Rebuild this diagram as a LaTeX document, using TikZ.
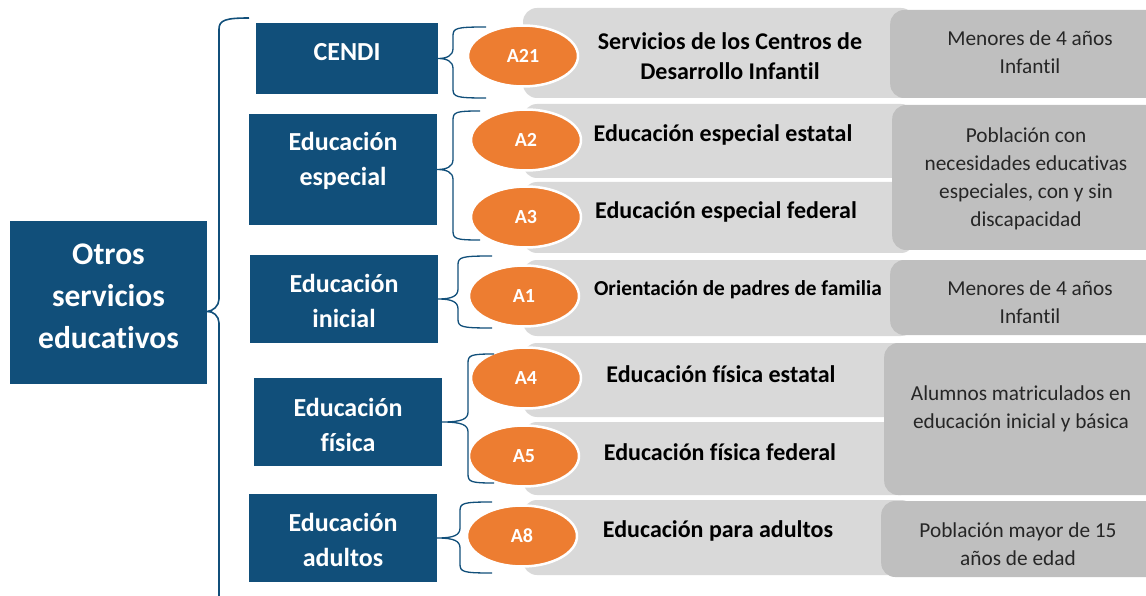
\documentclass[tikz,border=0pt]{standalone}
\usepackage{fontspec}
\setmainfont[Ligatures=CommonOff]{Carlito}
\usetikzlibrary{shapes.geometric}

\definecolor{sepblue}{RGB}{17,79,122}
\definecolor{seporange}{RGB}{237,125,49}
\definecolor{rowgray}{RGB}{217,217,217}
\definecolor{popgray}{RGB}{191,191,191}
\definecolor{popink}{RGB}{38,38,38}

\tikzset{
  catbox/.style={fill=sepblue, inner sep=0pt},
  cattext/.style={white, font=\bfseries\fontsize{26}{35}\selectfont, align=center},
  progell/.style={ellipse, fill=seporange, draw=white, line width=2.5pt,
    minimum width=110pt, minimum height=61pt, inner sep=0pt,
    text=white, font=\bfseries\fontsize{20}{22}\selectfont},
  rowbox/.style={fill=rowgray, rounded corners=14pt, minimum width=392pt, inner sep=0pt},
  rowtext/.style={font=\bfseries\fontsize{24}{30}\selectfont, align=center},
  popbox/.style={fill=popgray, rounded corners=14pt, minimum width=280pt, inner sep=0pt, anchor=west},
  poptext/.style={text=popink, font=\fontsize{21.3}{28}\selectfont, align=center},
  brc/.style={draw=sepblue, line width=1.3pt}
}

% brace from a category box to its programmes: node, spine x, top y, bottom y, end x
\newcommand\catbrace[5]{%
  \coordinate (bm) at (#2,0 |- #1.east);
  \draw[brc] (#5,#3) .. controls (#2+3,#3) and (#2,#3+1) .. (#2,#3+9)
    -- ([yshift=10pt]bm) .. controls ([yshift=3pt]bm) and ([xshift=-6pt]bm) .. (#1.east)
    .. controls ([xshift=-6pt]bm) and ([yshift=-3pt]bm) .. ([yshift=-10pt]bm)
    -- (#2,#4-9) .. controls (#2,#4-1) and (#2+3,#4) .. (#5,#4);}

\begin{document}
\begin{tikzpicture}[x=1pt,y=-1pt]
\useasboundingbox (0,0) rectangle (1146,596);
\clip (0,0) rectangle (1146,596);
% Grey rows behind the programme names
\node[rowbox,minimum height=90pt] (r21) at (719,53) {};
\node[rowbox,minimum height=74pt] (r2) at (719,141) {};
\node[rowbox,minimum height=71pt] (r3) at (719,217.5) {};
\node[rowbox,minimum height=76pt] (r1) at (719,298) {};
\node[rowbox,minimum height=74pt] (r4) at (719,380) {};
\node[rowbox,minimum height=73pt] (r5) at (719,458.5) {};
\node[rowbox,minimum height=75pt] (r8) at (719,537.5) {};
% Programme names
\node[rowtext] (t21) at (730,56) {Servicios de los Centros de\\Desarrollo Infantil};
\node[rowtext] (t2) at (723,135) {Educación especial estatal};
\node[rowtext] (t3) at (726,212) {Educación especial federal};
\node[rowtext,font=\bfseries\fontsize{21.3}{26}\selectfont] (t1) at (738,290) {Orientación de padres de familia};
\node[rowtext] (t4) at (721,374) {Educación física estatal};
\node[rowtext] (t5) at (720,452) {Educación física federal};
\node[rowtext] (t8) at (718,531) {Educación para adultos};
% Population boxes on the right
\node[popbox,minimum height=88pt] (p21) at (890,54) {};
\node[popbox,minimum height=145pt] (p23) at (892,177.5) {};
\node[popbox,minimum height=75pt] (p1) at (890,297.5) {};
\node[popbox,minimum height=152pt] (p45) at (884,419) {};
\node[popbox,minimum height=76pt] (p8) at (881,539) {};
\node[poptext] (q21) at (1030,52.5) {Menores de 4 años\\Infantil};
\node[poptext] (q23) at (1026,179) {Población con\\necesidades educativas\\especiales, con y sin\\discapacidad};
\node[poptext] (q1) at (1030,302.5) {Menores de 4 años\\Infantil};
\node[poptext] (q45) at (1021,408.5) {Alumnos matriculados en\\educación inicial y básica};
\node[poptext] (q8) at (1018,544) {Población mayor de 15\\años de edad};
% Programme keys
\node[progell] (a21) at (523,56) {A21};
\node[progell] (a2) at (526,140) {A2};
\node[progell] (a3) at (526,217) {A3};
\node[progell] (a1) at (524,296) {A1};
\node[progell] (a4) at (526,378) {A4};
\node[progell] (a5) at (524,456) {A5};
\node[progell] (a8) at (522,536) {A8};
% Category boxes
\node[catbox,minimum width=197pt,minimum height=163pt] (main) at (108.5,302.5) {};
\node[catbox,minimum width=182pt,minimum height=71pt] (cendi) at (347,58.5) {};
\node[catbox,minimum width=188pt,minimum height=111pt] (esp) at (343,169.5) {};
\node[catbox,minimum width=188pt,minimum height=88pt] (ini) at (344,299) {};
\node[catbox,minimum width=188pt,minimum height=88pt] (fis) at (348,422) {};
\node[catbox,minimum width=188pt,minimum height=88pt] (adu) at (343,538) {};
\node[cattext,font=\bfseries\fontsize{31.5}{42}\selectfont] (mainlbl) at (108.5,296) {Otros\\servicios\\educativos};
\node[cattext] (cendilbl) at (347,52) {CENDI};
\node[cattext] (esplbl) at (343,160.5) {Educación\\especial};
\node[cattext] (inilbl) at (344,301) {Educación\\inicial};
\node[cattext] (fislbl) at (348,424.5) {Educación\\física};
\node[cattext] (adulbl) at (343,539.5) {Educación\\adultos};
% Big brace from the main box
\coordinate (maintip) at ([yshift=-9pt]main.east);
\draw[brc,line width=1.6pt] (249,18) .. controls (226,18) and (219,20) .. (219,29) -- (219,299)
  .. controls (219,306) and (213,311) .. (maintip) .. controls (213,311) and (219,316) .. (219,323) -- (219,610);
% Small braces
\catbrace{cendi}{453}{27}{98}{486}
\catbrace{esp}{453}{111}{240}{480}
\catbrace{ini}{458}{256}{328}{492}
\catbrace{fis}{468}{354}{483}{494}
\catbrace{adu}{460}{502}{573}{492}
\end{tikzpicture}
\end{document}
